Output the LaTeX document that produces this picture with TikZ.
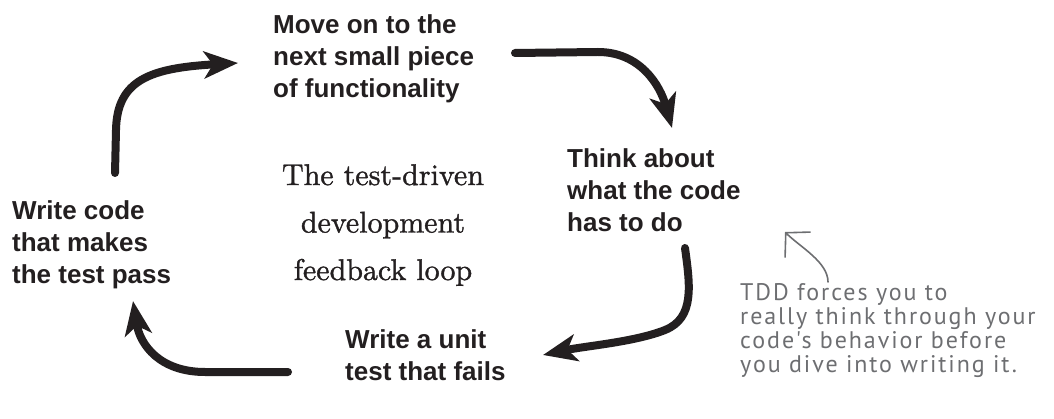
\documentclass[tikz,border=0pt]{standalone}
\usepackage{fontspec}
\usetikzlibrary{arrows.meta}
\newfontfamily\labelfont{Liberation Sans}
\newfontfamily\notefont{PT Sans}[LetterSpace=8]
\newfontfamily\titlefont{lmroman10-regular.otf}[FakeBold=1.2]
\definecolor{ink}{HTML}{231F20}
\definecolor{pencil}{HTML}{6D6E71}
\tikzset{
  stepbox/.style={anchor=north west, inner sep=0pt, align=left, text=ink,
    font=\labelfont\bfseries\fontsize{26}{32}\selectfont},
  titlebox/.style={anchor=north, inner sep=0pt, align=center, text=ink,
    font=\titlefont\fontsize{30}{47.5}\selectfont},
  notebox/.style={anchor=north west, inner sep=0pt, align=left, text=pencil,
    font=\notefont\fontsize{24}{24}\selectfont},
  loop/.style={draw=ink, line width=8pt, line cap=round,
    -{Stealth[length=34pt, width=27pt, inset=9pt]}},
  pointer/.style={draw=pencil, line width=1.6pt, line cap=round,
    -{Straight Barb[length=17pt, width=36pt, line width=1.6pt]}}
}
\begin{document}
\begin{tikzpicture}[x=1pt, y=-1pt]
\useasboundingbox (0,0) rectangle (1054,419);

% the four steps of the cycle
\node[stepbox] (move)  at (273,14)  {Move on to the\\next small piece\\of functionality};
\node[stepbox] (think) at (567,148) {Think about\\what the code\\has to do};
\node[stepbox] (unit)  at (345,329) {Write a unit\\test that fails};
\node[stepbox] (pass)  at (12,200)  {Write code\\that makes\\the test pass};

% title in the middle of the loop
\node[titlebox] (title) at (383,164) {The test-driven\\development\\feedback loop};

% side note
\node[notebox] (note) at (740,283) {TDD forces you to\\really think through your\\code's behavior before\\you dive into writing it.};

% end points of the loop arrows
\coordinate (p1) at (115,173);  \coordinate (q1) at (238,63);
\coordinate (p2) at (515,53);   \coordinate (q2) at (672,128);
\coordinate (p3) at (685,248);  \coordinate (q3) at (543,355);
\coordinate (p4) at (288,372);  \coordinate (q4) at (133,301);

% pass -> move
\draw[loop] (p1) -- (116,130) .. controls (117,80) and (150,68) .. (q1);
% move -> think
\draw[loop] (p2) -- (598,52) .. controls (640,52) and (660,85) .. (q2);
% think -> unit
\draw[loop] (p3) .. controls (690,285) and (695,318) .. (665,330)
                 .. controls (635,342) and (585,346) .. (q3);
% unit -> pass
\draw[loop] (p4) -- (205,372) .. controls (160,372) and (140,345) .. (q4);

% pointer from the note
\coordinate (n1) at (828,282);
\coordinate (n2) at (785,232);
\draw[pointer] (n1) .. controls (828,262) and (800,247) .. (n2);
\end{tikzpicture}
\end{document}
